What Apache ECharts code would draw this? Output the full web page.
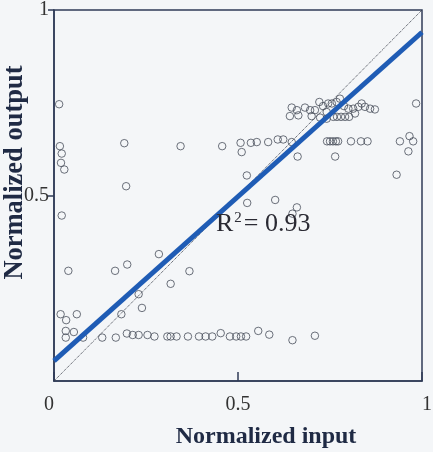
<!DOCTYPE html>
<html><head><meta charset="utf-8">
<script src="https://cdn.jsdelivr.net/npm/echarts@6/dist/echarts.min.js"></script>
<style>html,body{margin:0;padding:0;background:#f4f6f8}#c{width:433px;height:452px}</style>
</head><body><div id="c"></div>
<script>
// Scatter points: normalized input (x) and normalized output (y)
const inputVals = [
  0.014,0.016,0.021,0.019,0.028,0.191,0.196,0.344,0.457,0.507,0.510,0.535,0.524,
  0.021,0.039,0.166,0.199,0.285,0.368,0.317,0.230,0.239,0.183,0.018,0.033,0.062,0.032,0.054,0.032,0.079,0.131,0.168,0.198,0.214,0.230,0.254,0.273,0.308,0.317,0.333,0.364,0.394,0.412,0.430,0.453,0.478,0.495,0.508,0.522,0.555,0.585,0.648,0.709,
  0.551,0.582,0.608,0.623,0.646,0.662,0.742,0.750,0.758,0.766,0.772,0.764,0.807,0.834,0.852,0.940,0.966,0.976,0.963,0.931,0.984,
  0.525,0.601,0.660,0.648,
  0.646,0.641,0.660,0.664,0.682,0.696,0.709,0.700,0.721,0.723,0.741,0.745,0.755,0.768,0.777,0.741,0.759,0.769,0.780,0.791,0.802,0.800,0.813,0.827,0.836,0.845,0.859,0.872,0.818,0.731,0.788
];
const outputVals = [
  0.746,0.633,0.613,0.588,0.570,0.641,0.525,0.633,0.633,0.642,0.617,0.642,0.554,
  0.446,0.297,0.297,0.314,0.342,0.296,0.262,0.234,0.197,0.180,0.180,0.164,0.180,0.135,0.132,0.117,0.117,0.117,0.117,0.128,0.124,0.124,0.124,0.120,0.120,0.120,0.120,0.120,0.120,0.120,0.120,0.129,0.120,0.120,0.120,0.120,0.135,0.125,0.110,0.122,
  0.644,0.644,0.651,0.651,0.644,0.605,0.646,0.646,0.646,0.646,0.646,0.605,0.646,0.646,0.646,0.646,0.660,0.646,0.619,0.556,0.748,
  0.480,0.488,0.468,0.451,
  0.737,0.714,0.730,0.716,0.737,0.730,0.730,0.714,0.752,0.710,0.725,0.748,0.748,0.752,0.761,0.707,0.712,0.712,0.712,0.712,0.712,0.734,0.734,0.739,0.748,0.739,0.734,0.732,0.721,0.741,0.741
];
// Regression fit line endpoints
const fitX = [0, 1];
const fitY = [0.054, 0.94];
// 1:1 reference line
const refX = [0, 1];
const refY = [0, 1];
const tickLabels = {0: '0', 0.5: '0.5', 1: '1'};
const r2Text = '0.93';

const scatterData = inputVals.map((x, i) => [x, outputVals[i]]);
const fitData = fitX.map((x, i) => [x, fitY[i]]);
const refData = refX.map((x, i) => [x, refY[i]]);

const axisColor = '#2f3b57';
const serif = '"Liberation Serif", "Times New Roman", serif';

const chart = echarts.init(document.getElementById('c'), null, {renderer: 'canvas'});
chart.setOption({
  animation: false,
  backgroundColor: '#f4f6f8',
  grid: {left: 54, top: 10, width: 368, height: 371, show: true, borderColor: axisColor, borderWidth: 1.5,
         containLabel: false, outerBoundsMode: 'none'},
  xAxis: {
    type: 'value', min: 0, max: 1, interval: 0.5,
    axisLine: {show: true, onZero: false, lineStyle: {color: axisColor, width: 1.5}},
    axisTick: {show: true, inside: true, length: 9, lineStyle: {color: axisColor, width: 1.5}},
    splitLine: {show: false},
    axisLabel: {margin: 14, fontFamily: serif, fontSize: 20, color: '#333',
      alignMinLabel: 'right', alignMaxLabel: 'left',
      formatter: v => tickLabels[v] ?? ''},
    name: 'Normalized input', nameLocation: 'middle', nameGap: 44, nameMoveOverlap: false,
    nameTextStyle: {fontFamily: serif, fontWeight: 'bold', fontSize: 24, color: '#1f2a44', padding: [0, 0, 0, 56]}
  },
  yAxis: {
    type: 'value', min: 0, max: 1, interval: 0.5,
    axisLine: {show: true, onZero: false, lineStyle: {color: axisColor, width: 1.5}},
    axisTick: {show: true, inside: false, length: 6, lineStyle: {color: axisColor, width: 1.5}},
    splitLine: {show: false},
    axisLabel: {margin: 5, fontFamily: serif, fontSize: 20, color: '#333', showMinLabel: false,
      formatter: v => tickLabels[v] ?? ''},
    name: 'Normalized output', nameLocation: 'middle', nameGap: 25, nameMoveOverlap: false,
    nameTextStyle: {fontFamily: serif, fontWeight: 'bold', fontSize: 26.5, color: '#1f2a44', padding: [0, 0, 0, 46]}
  },
  series: [
    {type: 'line', data: refData, showSymbol: false, silent: true,
     lineStyle: {type: 'dotted', width: 1, color: '#3a3f4a'}, z: 1},
    {type: 'scatter', data: scatterData, symbol: 'circle', symbolSize: 7.5,
     itemStyle: {color: 'rgba(0,0,0,0)', borderColor: '#474d5a', borderWidth: 1}, z: 2},
    {type: 'line', data: fitData, showSymbol: false, silent: true,
     lineStyle: {width: 5, color: '#1f5cb5'}, z: 3}
  ],
  graphic: [{
    type: 'text', left: 216, top: 211, z: 10,
    style: {
      text: 'R{s|2}= ' + r2Text,
      font: '26px ' + serif, fill: '#2a2a33',
      rich: {s: {fontSize: 15, fontFamily: serif, fill: '#2a2a33', verticalAlign: 'top', padding: [0, 2, 10, 1]}}
    }
  }]
});
</script></body></html>
